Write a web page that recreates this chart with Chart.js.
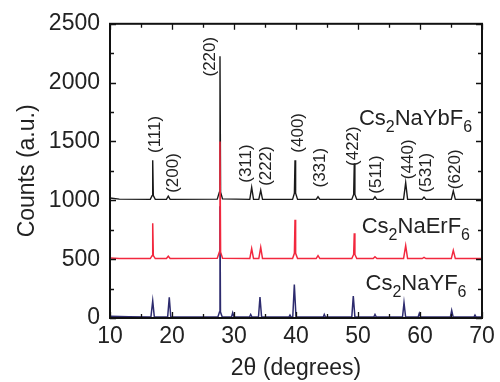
<!DOCTYPE html>
<html>
<head>
<meta charset="utf-8">
<script src="https://cdn.jsdelivr.net/npm/chart.js@4/dist/chart.umd.min.js"></script>
<style>
  html, body { margin: 0; padding: 0; background: #fff; }
  canvas { display: block; }
</style>
</head>
<body>
<canvas id="xrd" width="500" height="382"></canvas>
<script>
// Powder XRD patterns, [2θ (deg), counts]; patterns are offset by 500 counts each.
const patternYb = [
  [10, 1020], [11.5, 1010], [16.5, 1008], [16.79, 1040], [16.89, 1340], [16.99, 1040], [17.3, 1008],
  [19.1, 1008], [19.4, 1035], [19.7, 1008],
  [27.3, 1010], [27.64, 1070], [27.74, 2225], [27.84, 1070], [28.15, 1012],
  [32.55, 1008], [32.85, 1110], [33.15, 1008], [34.0, 1008], [34.31, 1085], [34.6, 1008],
  [39.45, 1008], [39.74, 1060], [39.84, 1340], [39.94, 1060], [40.25, 1008],
  [43.25, 1008], [43.55, 1030], [43.85, 1008],
  [49.0, 1008], [49.3, 1050], [49.4, 1315], [49.5, 1050], [49.8, 1008],
  [52.45, 1008], [52.74, 1030], [53.05, 1008],
  [57.35, 1008], [57.69, 1150], [58.0, 1008],
  [60.35, 1008], [60.65, 1028], [60.95, 1008],
  [65.05, 1008], [65.37, 1080], [65.7, 1008], [70, 1008]
];
const patternEr = [
  [10, 510], [11.5, 505], [16.5, 505], [16.79, 530], [16.89, 805], [16.99, 530], [17.3, 505],
  [19.1, 505], [19.4, 525], [19.7, 505],
  [27.3, 507], [27.64, 560], [27.74, 1500], [27.84, 560], [28.15, 507],
  [32.55, 505], [32.85, 590], [33.15, 505], [34.0, 505], [34.31, 600], [34.6, 505],
  [39.45, 505], [39.74, 550], [39.84, 835], [39.94, 550], [40.25, 505],
  [43.25, 505], [43.55, 530], [43.85, 505],
  [49.0, 505], [49.3, 540], [49.4, 720], [49.5, 540], [49.8, 505],
  [52.45, 505], [52.74, 520], [53.05, 505],
  [57.35, 505], [57.69, 615], [58.0, 505],
  [60.35, 505], [60.65, 515], [60.95, 505],
  [65.05, 505], [65.37, 575], [65.7, 505], [70, 505]
];
const patternY = [
  [10, 14], [13, 10], [16.6, 8], [16.89, 145], [17.15, 8],
  [19.3, 8], [19.56, 175], [19.8, 8],
  [27.4, 8], [27.66, 50], [27.74, 950], [27.82, 50], [28.1, 8],
  [29.6, 8], [29.79, 45], [30.0, 8], [32.5, 8], [32.69, 30], [32.9, 8],
  [33.95, 8], [34.19, 178], [34.45, 8],
  [38.85, 8], [39.03, 25], [39.2, 8], [39.48, 8], [39.73, 285], [40.0, 8],
  [44.4, 8], [44.56, 30], [44.75, 8],
  [49.0, 8], [49.24, 186], [49.5, 8],
  [52.55, 8], [52.74, 30], [52.95, 8],
  [57.18, 8], [57.42, 130], [57.68, 8],
  [59.7, 8], [59.89, 40], [60.1, 8],
  [64.9, 8], [65.11, 65], [65.35, 8],
  [68.7, 8], [68.87, 25], [69.05, 8], [70, 8]
];

// Miller indices marked on the top pattern, anchored at [2θ, counts]
const hklText = ['(111)', '(200)', '(220)', '(311)', '(222)', '(400)', '(331)', '(422)', '(511)', '(440)', '(531)', '(620)'];
const hklTheta = [17.26, 20.16, 26.13, 32.05, 35.27, 40.37, 43.87, 49.24, 53.02, 58.11, 61.08, 65.65];
const hklCounts = [1402, 1064, 2052, 1149, 1123, 1405, 1109, 1292, 1056, 1180, 1067, 1095];

// Phase names (base, subscript pairs), right edge anchored at [2θ, counts]
const phaseParts = [
  ['Cs', '2', 'NaYbF', '6'],
  ['Cs', '2', 'NaErF', '6'],
  ['Cs', '2', 'NaYF', '6']
];
const phaseTheta = [68.4, 68.06, 67.5];
const phaseCounts = [1638, 720, 242];

const FONT = "'Liberation Sans', Arial, sans-serif";
const TEXT = '#222';

const toPoints = arr => arr.map(([x, y]) => ({ x, y }));

const annotate = {
  id: 'annotate',
  afterDatasetsDraw(chart) {
    const { ctx, chartArea: a, scales: { x, y } } = chart;
    ctx.save();

    // closed frame with inward ticks on all four sides
    ctx.strokeStyle = '#111';
    ctx.lineWidth = 2;
    ctx.strokeRect(a.left, a.top, a.right - a.left, a.bottom - a.top);
    ctx.lineWidth = 1.3;
    ctx.beginPath();
    for (let v = x.min; v <= x.max; v += 5) {
      const px = Math.round(x.getPixelForValue(v)) + 0.5;
      const len = v % 10 === 0 ? 6 : 4;
      ctx.moveTo(px, a.bottom); ctx.lineTo(px, a.bottom - len);
      ctx.moveTo(px, a.top); ctx.lineTo(px, a.top + len);
    }
    for (let v = y.min; v <= y.max; v += 250) {
      const py = Math.round(y.getPixelForValue(v)) + 0.5;
      const len = v % 500 === 0 ? 6 : 4;
      ctx.moveTo(a.left, py); ctx.lineTo(a.left + len, py);
      ctx.moveTo(a.right, py); ctx.lineTo(a.right - len, py);
    }
    ctx.stroke();

    // Miller indices, rotated
    ctx.fillStyle = TEXT;
    ctx.font = `17px ${FONT}`;
    ctx.textAlign = 'left';
    ctx.textBaseline = 'middle';
    hklText.forEach((t, i) => {
      ctx.save();
      ctx.translate(x.getPixelForValue(hklTheta[i]), y.getPixelForValue(hklCounts[i]));
      ctx.rotate(-Math.PI / 2);
      ctx.fillText(t, 0, 0);
      ctx.restore();
    });

    // phase names with subscripts
    ctx.textBaseline = 'alphabetic';
    const big = `22px ${FONT}`, small = `16px ${FONT}`;
    phaseParts.forEach((parts, i) => {
      const widths = parts.map((p, k) => { ctx.font = k % 2 ? small : big; return ctx.measureText(p).width; });
      const total = widths.reduce((s, w) => s + w, 0);
      let px = x.getPixelForValue(phaseTheta[i]) - total;
      const py = y.getPixelForValue(phaseCounts[i]);
      parts.forEach((p, k) => {
        ctx.font = k % 2 ? small : big;
        ctx.fillText(p, px, k % 2 ? py + 7 : py);
        px += widths[k];
      });
    });
    ctx.restore();
  }
};

const axisFont = { size: 23, family: FONT };

new Chart(document.getElementById('xrd'), {
  type: 'line',
  data: {
    datasets: [
      { label: 'Cs2NaErF6', data: toPoints(patternEr), borderColor: '#f2283e', borderWidth: 1.5 },
      { label: 'Cs2NaYF6', data: toPoints(patternY), borderColor: '#2d2b6e', borderWidth: 1.5 },
      { label: 'Cs2NaYbF6', data: toPoints(patternYb), borderColor: '#1a1a1a', borderWidth: 1.4 }
    ]
  },
  options: {
    responsive: false,
    animation: false,
    devicePixelRatio: 1,
    layout: { padding: { top: 22, right: 18, left: 0, bottom: 0 } },
    elements: { point: { radius: 0 }, line: { tension: 0, fill: false } },
    plugins: { legend: { display: false }, tooltip: { enabled: false } },
    scales: {
      x: {
        type: 'linear', min: 10, max: 70,
        ticks: { stepSize: 10, color: TEXT, font: axisFont, padding: 5, maxRotation: 0, callback: v => String(v) },
        grid: { display: false, drawTicks: false },
        border: { display: false },
        title: { display: true, text: '2θ (degrees)', color: TEXT, font: axisFont, padding: { top: 0, bottom: 0 } },
        afterFit(s) { s.height = 64; }
      },
      y: {
        min: 0, max: 2500,
        ticks: { stepSize: 500, color: TEXT, font: axisFont, padding: 10, callback: v => String(v) },
        grid: { display: false, drawTicks: false },
        border: { display: false },
        title: { display: true, text: 'Counts (a.u.)', color: TEXT, font: axisFont, padding: { top: 14, bottom: 0 } },
        afterFit(s) { s.width = 110; }
      }
    }
  },
  plugins: [annotate]
});
</script>
</body>
</html>
